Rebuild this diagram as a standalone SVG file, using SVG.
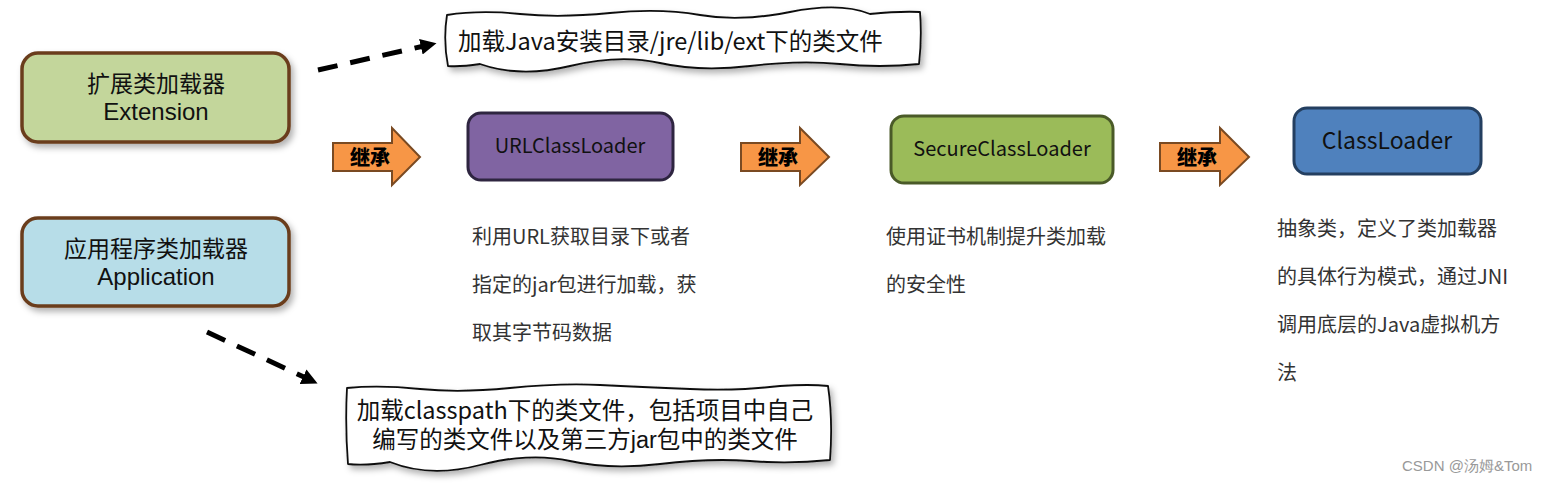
<svg xmlns="http://www.w3.org/2000/svg" width="1550" height="483" viewBox="0 0 1550 483">
<defs>
<style>
.t{font-family:"Noto Sans CJK SC","Noto Sans",sans-serif;fill:#111}
.lat{font-family:"Liberation Sans","Noto Sans CJK SC",sans-serif;fill:#111}
.desc{font-family:"Noto Sans CJK SC","Noto Sans",sans-serif;font-size:20px;fill:#333}
.big{font-size:23px;text-anchor:middle}
.cls{font-size:20px;text-anchor:middle}
.call{font-size:23.5px}
.inh{font-family:"Noto Sans CJK SC",sans-serif;font-size:20px;font-weight:900;fill:#000;text-anchor:middle}
.loader{stroke:#6b3e1e;stroke-width:3.5}
.wavy{fill:#fff;stroke:#111;stroke-width:1.8;stroke-linejoin:round}
.dash{fill:none;stroke:#000;stroke-width:5;stroke-dasharray:20 13}
.orange{fill:#f79646;stroke:#7a4a22;stroke-width:2;stroke-linejoin:miter}
</style>
<filter id="sh" x="-10%" y="-10%" width="130%" height="140%">
<feDropShadow dx="3" dy="4" stdDeviation="3" flood-color="#000" flood-opacity="0.3"/>
</filter>
<marker id="ah" viewBox="0 0 10 10" refX="2" refY="5" markerWidth="3.2" markerHeight="3.2" orient="auto" markerUnits="strokeWidth">
<path d="M0,0 L10,5 L0,10 z" fill="#000"/>
</marker>
</defs>

<g id="connectors">
<path class="dash" d="M318,70 L424,46" marker-end="url(#ah)"/>
<path class="dash" d="M207,332 L306,378" marker-end="url(#ah)"/>
<g id="inherit1"><polygon class="orange" points="333,143 392,143 392,128 420,157 392,185 392,171 333,171"/><text class="inh" x="370" y="165">继承</text></g>
<g id="inherit2"><polygon class="orange" points="741,143 800,143 800,128 829,157 800,185 800,171 741,171"/><text class="inh" x="778" y="165">继承</text></g>
<g id="inherit3"><polygon class="orange" points="1160,143 1220,143 1220,128 1249,157 1220,185 1220,171 1160,171"/><text class="inh" x="1197" y="165">继承</text></g>
</g>

<g id="extension">
<rect x="22" y="53" width="267" height="89" rx="16" fill="#c3d69b" class="loader" filter="url(#sh)"/>
<text class="t big" x="156" y="92">扩展类加载器</text>
<text class="lat" x="156" y="120" font-size="24" text-anchor="middle">Extension</text>
</g>

<g id="application">
<rect x="22" y="218" width="267" height="88" rx="16" fill="#b7dde8" class="loader" filter="url(#sh)"/>
<text class="t big" x="156" y="257">应用程序类加载器</text>
<text class="lat" x="156" y="285" font-size="24" text-anchor="middle">Application</text>
</g>

<g id="callout-ext">
<path class="wavy" filter="url(#sh)" d="M447,15 Q480,10 520,14 T610,13 T700,15 T790,12 T870,14 Q900,11 920,12 Q922,38 919,64 Q880,68 840,64 T750,66 T660,63 T570,66 T480,64 Q460,67 448,66 Q443,40 447,15 Z"/>
<text class="t call" x="458" y="50">加载Java安装目录/jre/lib/ext下的类文件</text>
</g>

<g id="callout-app">
<path class="wavy" filter="url(#sh)" d="M347,388 Q380,385 420,389 T510,388 T600,385 T690,389 T780,386 Q810,384 828,386 Q833,420 830,460 Q790,464 750,461 T660,464 T570,461 T480,465 T390,462 Q365,466 348,464 Q345,425 347,388 Z"/>
<text class="t call" x="585" y="419" text-anchor="middle">加载classpath下的类文件，包括项目中自己</text>
<text class="lat call" x="585" y="448" text-anchor="middle">编写的类文件以及第三方jar包中的类文件</text>
</g>

<g id="urlclassloader">
<rect x="468" y="113" width="205" height="67" rx="13" fill="#8064a2" stroke="#2e2540" stroke-width="3"/>
<text class="t cls" x="570" y="153">URLClassLoader</text>
</g>

<g id="secureclassloader">
<rect x="891" y="116" width="222" height="67" rx="13" fill="#9bbb59" stroke="#4a5a28" stroke-width="3"/>
<text class="t cls" x="1002" y="156">SecureClassLoader</text>
</g>

<g id="classloader">
<rect x="1294" y="108" width="187" height="66" rx="13" fill="#4f81bd" stroke="#243f60" stroke-width="3"/>
<text class="t" x="1387" y="149" font-size="23" text-anchor="middle">ClassLoader</text>
</g>

<g id="desc-url">
<text class="desc" x="472" y="244">利用URL获取目录下或者</text>
<text class="desc" x="472" y="292">指定的jar包进行加载，获</text>
<text class="desc" x="472" y="340">取其字节码数据</text>
</g>

<g id="desc-secure">
<text class="desc" x="886" y="244">使用证书机制提升类加载</text>
<text class="desc" x="886" y="292">的安全性</text>
</g>

<g id="desc-classloader">
<text class="desc" x="1277" y="236">抽象类，定义了类加载器</text>
<text class="desc" x="1277" y="284">的具体行为模式，通过JNI</text>
<text class="desc" x="1277" y="332">调用底层的Java虚拟机方</text>
<text class="desc" x="1277" y="380">法</text>
</g>

<text x="1402" y="471" font-family="Liberation Sans, sans-serif" font-size="15" fill="#999">CSDN @汤姆&amp;Tom</text>
</svg>
